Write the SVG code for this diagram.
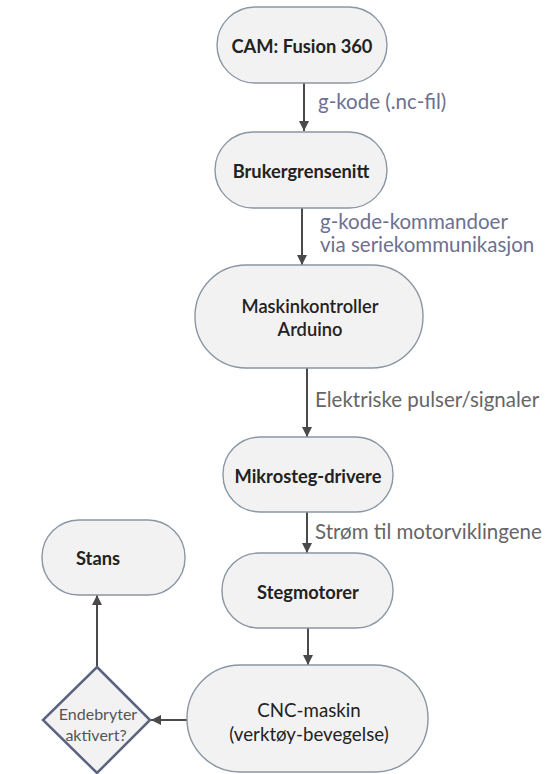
<svg xmlns="http://www.w3.org/2000/svg" width="545" height="774" viewBox="0 0 545 774">
<defs>
<marker id="arr" viewBox="0 0 10 10" refX="10" refY="5" markerWidth="10" markerHeight="10" markerUnits="userSpaceOnUse" orient="auto">
<path d="M0,0 L10,5 L0,10 z" fill="#4a4a4a"/>
</marker>
<style>
.node{fill:#f2f2f2;stroke:#8a96a4;stroke-width:1.4}
.dia{fill:#f2f2f2;stroke:#5c6382;stroke-width:2.5}
.lbl{font-family:Lato,"Open Sans",sans-serif;font-size:18.3px;font-weight:bold;fill:#222;text-anchor:middle;dominant-baseline:central}
.lbl2{font-family:Lato,"Open Sans",sans-serif;font-size:18.7px;fill:#222;text-anchor:middle;dominant-baseline:central}
.dtx{font-family:Lato,"Open Sans",sans-serif;font-size:16px;fill:#555;text-anchor:middle;dominant-baseline:central}
.edge{stroke:#4a4a4a;stroke-width:2;fill:none;marker-end:url(#arr)}
.el{font-family:Lato,"Open Sans",sans-serif;font-size:20.5px;fill:#6d7090}
.el2{font-family:Lato,"Open Sans",sans-serif;font-size:20.5px;fill:#666}
</style>
</defs>
<rect width="545" height="774" fill="#ffffff"/>
<g id="connectors">
<line class="edge" x1="304" y1="83" x2="304" y2="131"/>
<line class="edge" x1="302" y1="208" x2="302" y2="265"/>
<line class="edge" x1="307" y1="368" x2="307" y2="437"/>
<line class="edge" x1="307" y1="512" x2="307" y2="553"/>
<line class="edge" x1="308" y1="628" x2="308" y2="665"/>
<line class="edge" x1="187" y1="720" x2="151" y2="720"/>
<line class="edge" x1="97" y1="667" x2="97" y2="595"/>
<text class="el" x="318" y="109">g-kode (.nc-fil)</text>
<text class="el" x="320" y="229">g-kode-kommandoer</text>
<text class="el" x="320" y="252">via seriekommunikasjon</text>
<text class="el2" x="315" y="407">Elektriske pulser/signaler</text>
<text class="el2" x="315" y="539">Strøm til motorviklingene</text>
</g>
<g id="cam">
<rect class="node" x="217" y="7" width="170" height="76" rx="38"/>
<text class="lbl" x="302" y="46">CAM: Fusion 360</text>
</g>
<g id="bruker">
<rect class="node" x="215" y="132" width="172" height="76" rx="38"/>
<text class="lbl" x="301" y="171">Brukergrensenitt</text>
</g>
<g id="maskinkontroller">
<rect class="node" x="195" y="265" width="228" height="103" rx="51"/>
<text class="lbl" x="310" y="306" style="font-weight:600">Maskinkontroller</text>
<text class="lbl" x="310" y="329" style="font-weight:600">Arduino</text>
</g>
<g id="mikrosteg">
<rect class="node" x="223" y="437" width="170" height="75" rx="37"/>
<text class="lbl" x="308" y="476">Mikrosteg-drivere</text>
</g>
<g id="stegmotorer">
<rect class="node" x="222" y="553" width="171" height="75" rx="37"/>
<text class="lbl" x="308" y="592">Stegmotorer</text>
</g>
<g id="cnc">
<rect class="node" x="187" y="665" width="241" height="107" rx="53"/>
<text class="lbl2" x="309" y="710">CNC-maskin</text>
<text class="lbl2" x="309" y="734">(verktøy-bevegelse)</text>
</g>
<g id="endebryter">
<polygon class="dia" points="97,667 150,720 97,773 43,720"/>
<text class="dtx" x="98" y="713">Endebryter</text>
<text class="dtx" x="96" y="734">aktivert?</text>
</g>
<g id="stans">
<rect class="node" x="42" y="520" width="143" height="75" rx="37"/>
<text class="lbl" x="98" y="558">Stans</text>
</g>
</svg>
